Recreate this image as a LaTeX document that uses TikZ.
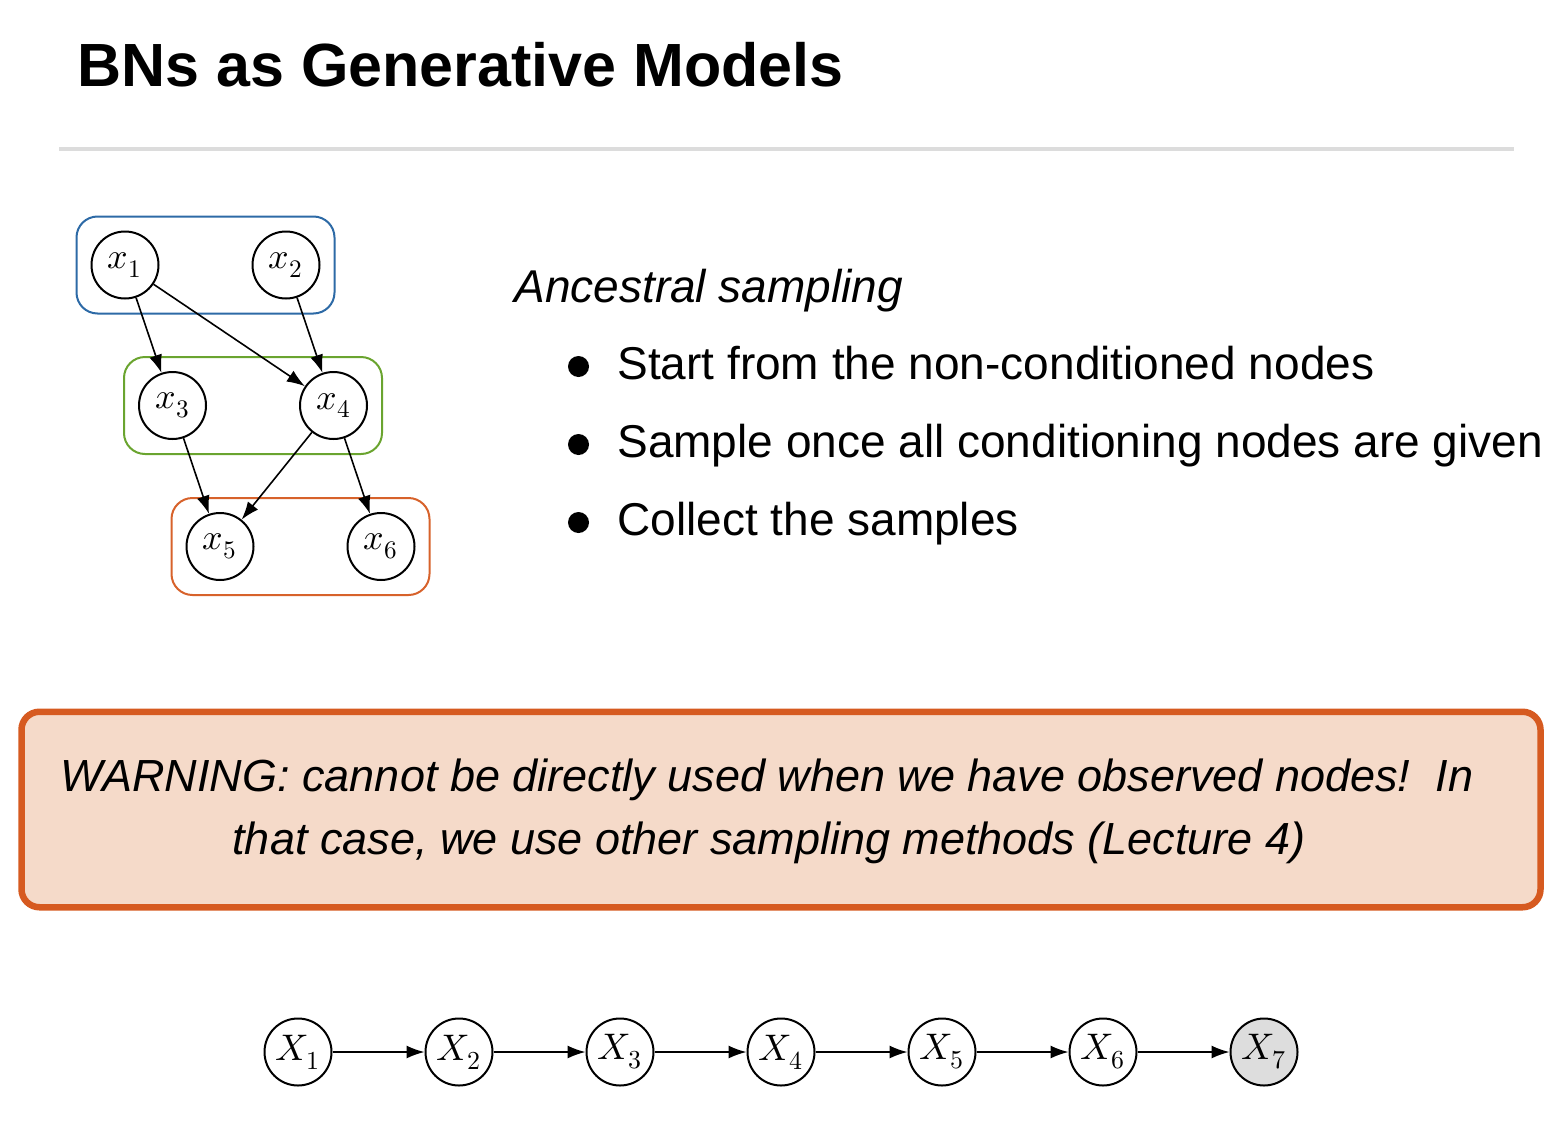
\documentclass[tikz,border=0pt]{standalone}
\usepackage{fontspec}
\usepackage{unicode-math}
\setmainfont{Liberation Sans}
\setmathfont{Latin Modern Math}
\usetikzlibrary{arrows.meta,fit}

\definecolor{grpblue}{HTML}{2D6AA6}
\definecolor{grpgreen}{HTML}{6AA42F}
\definecolor{grporange}{HTML}{D7622B}
\definecolor{warnedge}{HTML}{D65A20}
\definecolor{warnfill}{HTML}{F5DAC9}
\definecolor{rulegray}{HTML}{DCDCDC}
\definecolor{obsgray}{HTML}{DDDDDD}

\tikzset{
  var/.style={circle, draw, line width=1pt, minimum size=33.5pt, inner sep=0pt,
    font=\fontsize{18}{21}\selectfont},
  chainvar/.style={var, font=\fontsize{18.5}{21}\selectfont},
  observed/.style={fill=obsgray},
  edge/.style={line width=0.8pt, -{Latex[length=9pt,width=6.5pt]}},
  group/.style={draw, line width=1pt, rounded corners=10.5pt, inner sep=7pt},
  titletext/.style={anchor=base west, inner sep=0pt, font=\fontsize{30.5}{36}\selectfont\bfseries},
  bodytext/.style={anchor=base west, inner sep=0pt, font=\fontsize{23}{27}\selectfont},
  warntext/.style={anchor=base, inner sep=0pt, font=\fontsize{22.5}{27}\selectfont\itshape},
  bulletdot/.style={circle, fill, inner sep=0pt, minimum size=10.5pt},
}

\begin{document}
\begin{tikzpicture}[x=0.5pt, y=-0.5pt]
  \useasboundingbox (0,0) rectangle (1556,1129);

  % heading and separator
  \node[titletext] (title) at (77,87) {BNs as Generative Models};
  \draw[rulegray, line width=2pt] (59,149) -- (1514,149);

  % Bayesian network with its sampling layers
  \node[var] (x1) at (125,265) {$x_1$};
  \node[var] (x2) at (286,265) {$x_2$};
  \node[var] (x3) at (172.5,405.5) {$x_3$};
  \node[var] (x4) at (333.5,405.5) {$x_4$};
  \node[var] (x5) at (220,546.5) {$x_5$};
  \node[var] (x6) at (381,546.5) {$x_6$};

  \node[group, grpblue, fit=(x1)(x2)] (layer1) {};
  \node[group, grpgreen, fit=(x3)(x4)] (layer2) {};
  \node[group, grporange, fit=(x5)(x6)] (layer3) {};

  \draw[edge] (x1) -- (x3);
  \draw[edge] (x1) -- (x4);
  \draw[edge] (x2) -- (x4);
  \draw[edge] (x3) -- (x5);
  \draw[edge] (x4) -- (x5);
  \draw[edge] (x4) -- (x6);

  % ancestral sampling steps
  \node[bodytext, font=\fontsize{23}{27}\selectfont\itshape] (anc) at (514,302) {Ancestral sampling};
  \node[bulletdot] (b1) at (578.5,366.5) {};
  \node[bulletdot] (b2) at (578.5,444.5) {};
  \node[bulletdot] (b3) at (578.5,522.5) {};
  \node[bodytext] (s1) at (617,379.5) {Start from the non-conditioned nodes};
  \node[bodytext] (s2) at (617,457.5) {Sample once all conditioning nodes are given};
  \node[bodytext] (s3) at (617,535.5) {Collect the samples};

  % warning block
  \node[draw=warnedge, fill=warnfill, line width=3.25pt, rounded corners=9pt,
        minimum width=759.5pt, minimum height=97.75pt, inner sep=0pt] (warn) at (781,809.5) {};
  \node[warntext] (w1) at (767,791) {WARNING: cannot be directly used when we have observed nodes!\ \ In};
  \node[warntext] (w2) at (769,854) {that case, we use other sampling methods (Lecture 4)};

  % chain with an observed last variable
  \node[chainvar] (c1) at (298,1052) {$X_1$};
  \node[chainvar] (c2) at (459,1052) {$X_2$};
  \node[chainvar] (c3) at (620,1052) {$X_3$};
  \node[chainvar] (c4) at (781,1052) {$X_4$};
  \node[chainvar] (c5) at (942,1052) {$X_5$};
  \node[chainvar] (c6) at (1103,1052) {$X_6$};
  \node[chainvar, observed] (c7) at (1264,1052) {$X_7$};
  \foreach \a/\b in {c1/c2,c2/c3,c3/c4,c4/c5,c5/c6,c6/c7}
    \draw[edge] (\a) -- (\b);
\end{tikzpicture}
\end{document}
